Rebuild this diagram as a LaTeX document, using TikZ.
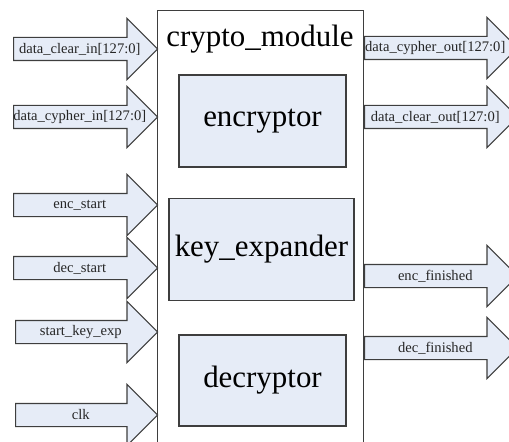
\documentclass[tikz,border=0pt]{standalone}
\usepackage{fontspec}
\setmainfont{Liberation Serif}
\usetikzlibrary{shapes.arrows}
\usetikzlibrary{positioning}
\definecolor{boxfill}{RGB}{230,236,247}
\definecolor{boxline}{RGB}{62,62,62}

\begin{document}
\begin{tikzpicture}[x=0.2mm,y=-0.2mm,
  block/.style={draw=boxline,line width=0.8pt,fill=boxfill,inner sep=0pt,font=\fontsize{17.6}{20}\selectfont},
  sigarrow/.style={single arrow,draw=boxline,line width=0.6pt,fill=boxfill,inner xsep=0pt,inner ysep=2.2mm,single arrow head extend=3.8mm,anchor=tail},
  every label/.style={font=\fontsize{8.3}{10}\selectfont,inner sep=0pt,text=black!85}]
  \useasboundingbox (0,0) rectangle (509,441);
  \clip (0,0) rectangle (509,441);
  % module frame, runs off the bottom
  \node[draw=boxline,line width=0.8pt,anchor=north west,minimum width=41.2mm,minimum height=96mm] (crypto_module) at (157,10){};
  \node[anchor=base,font=\fontsize{17.6}{20}\selectfont] (module_name) at (260,47){crypto\_module};
  \node[block,minimum width=33.4mm,minimum height=18.4mm] (encryptor) at (262.5,121){encryptor};
  \node[block,minimum width=37mm,minimum height=20.4mm,below=6mm of encryptor,xshift=-0.2mm] (key_expander){key\_expander};
  \node[block,minimum width=33.4mm,minimum height=18.2mm,below=6.6mm of key_expander,xshift=0.2mm] (decryptor){decryptor};
  % inputs
  \node[sigarrow,minimum height=28.8mm,label=center:{data\_clear\_in[127:0]}] (data_clear_in) at (13,49){};
  \node[sigarrow,minimum height=28.8mm,label=center:{data\_cypher\_in[127:0]}] (data_cypher_in) at (13,117){};
  \node[sigarrow,minimum height=28.8mm,label=center:{enc\_start}] (enc_start) at (13,205){};
  \node[sigarrow,minimum height=28.8mm,label=center:{dec\_start}] (dec_start) at (13,268){};
  \node[sigarrow,minimum height=28.4mm,label=center:{start\_key\_exp}] (start_key_exp) at (15,332){};
  \node[sigarrow,minimum height=28.4mm,label=center:{clk}] (clk) at (15,415){};
  % outputs
  \node[sigarrow,minimum height=30.6mm,label=center:{data\_cypher\_out[127:0]}] (data_cypher_out) at (364,48){};
  \node[sigarrow,minimum height=30.6mm,label=center:{data\_clear\_out[127:0]}] (data_clear_out) at (364,117){};
  \node[sigarrow,minimum height=30.6mm,label=center:{enc\_finished}] (enc_finished) at (364,276){};
  \node[sigarrow,minimum height=30.6mm,label=center:{dec\_finished}] (dec_finished) at (364,348){};
\end{tikzpicture}
\end{document}
